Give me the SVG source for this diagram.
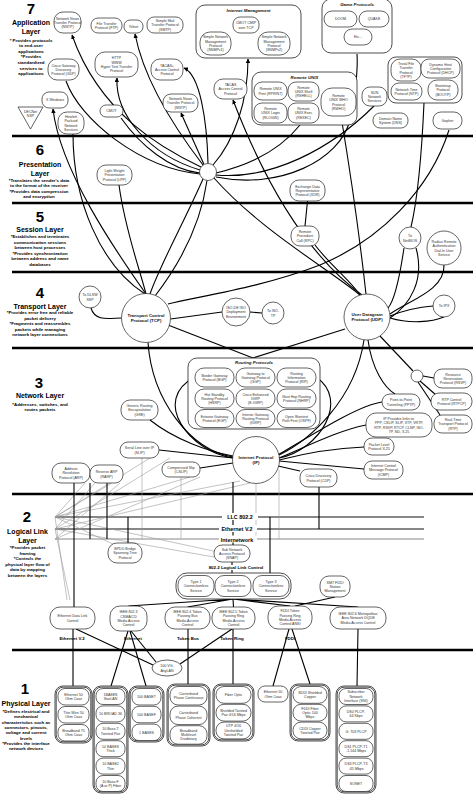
<svg xmlns="http://www.w3.org/2000/svg" width="474" height="794" viewBox="0 0 474 794">
<defs>
<style>
.nd{fill:#fff;stroke:#222;stroke-width:0.7}
.gp{fill:#fff;stroke:#222;stroke-width:0.8}
.t{font-family:"Liberation Sans",Arial,sans-serif;font-size:3.6px;fill:#333;text-anchor:middle}
.tb{font-family:"Liberation Sans",Arial,sans-serif;font-size:4.4px;font-weight:bold;fill:#111;text-anchor:middle}
.gt{font-family:"Liberation Sans",Arial,sans-serif;font-size:4.4px;font-weight:bold;font-style:italic;fill:#111;text-anchor:middle}
.c{fill:none;stroke:#000;stroke-width:1.1}
.ca{fill:none;stroke:#000;stroke-width:1.1;marker-end:url(#ah)}
.g{fill:none;stroke:#9a9a9a;stroke-width:0.6}
.ly{stroke:#000;stroke-width:2.4}
.ln{stroke:#111;stroke-width:1.2}
.num{font-family:"Liberation Sans",Arial,sans-serif;font-weight:bold;font-size:15px;text-anchor:middle;fill:#000}
.lt{font-family:"Liberation Sans",Arial,sans-serif;font-weight:bold;font-size:7px;text-anchor:middle;fill:#000}
.ld{font-family:"Liberation Sans",Arial,sans-serif;font-weight:bold;font-size:4.4px;text-anchor:middle;fill:#000}
.ll{font-family:"Liberation Sans",Arial,sans-serif;font-weight:bold;font-size:5.4px;text-anchor:middle;fill:#000}
</style>
<marker id="ah" viewBox="0 0 10 10" refX="9" refY="5" markerWidth="4.5" markerHeight="4.5" markerUnits="userSpaceOnUse" orient="auto"><path d="M0,0 L10,5 L0,10 z" fill="#000"/></marker>
</defs>
<rect width="474" height="794" fill="#fff"/>

<g id="layer-lines">
<line class="ly" x1="12" y1="136" x2="473" y2="136"/>
<line class="ly" x1="12" y1="203" x2="473" y2="203"/>
<line class="ly" x1="12" y1="272" x2="473" y2="272"/>
<line class="ly" x1="12" y1="348" x2="473" y2="348"/>
<line class="ly" x1="12" y1="494" x2="473" y2="494"/>
<line class="ly" x1="12" y1="650" x2="473" y2="650"/>
</g>

<g id="layer-text">
<text class="num" x="31" y="14">7</text>
<text class="lt" x="31" y="25">Application</text>
<text class="lt" x="31" y="33.5">Layer</text>
<text class="ld" x="31" y="41.5">* Provides protocols</text>
<text class="ld" x="31" y="47">to end-user</text>
<text class="ld" x="31" y="52.7">applications</text>
<text class="ld" x="31" y="58.3">*Provides</text>
<text class="ld" x="31" y="64">standardized</text>
<text class="ld" x="31" y="69.5">services to</text>
<text class="ld" x="31" y="75">applications</text>

<text class="num" x="40" y="155">6</text>
<text class="lt" x="40" y="167">Presentation</text>
<text class="lt" x="40" y="175.5">Layer</text>
<text class="ld" x="39" y="181.5">*Translates the sender's data</text>
<text class="ld" x="39" y="187">to the format of the receiver</text>
<text class="ld" x="39" y="192.5">*Provides data compression</text>
<text class="ld" x="39" y="198">and encryption</text>

<text class="num" x="40" y="222">5</text>
<text class="lt" x="40" y="232">Session Layer</text>
<text class="ld" x="40" y="238">*Establishes and terminates</text>
<text class="ld" x="40" y="243.5">communication sessions</text>
<text class="ld" x="40" y="249">between host processes</text>
<text class="ld" x="40" y="254.5">*Provides synchronization</text>
<text class="ld" x="40" y="260">between address and name</text>
<text class="ld" x="40" y="265.5">databases</text>

<text class="num" x="40" y="298">4</text>
<text class="lt" x="40" y="308.5">Transport Layer</text>
<text class="ld" x="40" y="314">*Provides error free and reliable</text>
<text class="ld" x="40" y="319.5">packet delivery</text>
<text class="ld" x="40" y="325">*Fragments and reassembles</text>
<text class="ld" x="40" y="330.5">packets while managing</text>
<text class="ld" x="40" y="336">network layer connections</text>

<text class="num" x="39" y="388">3</text>
<text class="lt" x="40" y="398">Network Layer</text>
<text class="ld" x="40" y="405.5">*Addresses, switches, and</text>
<text class="ld" x="40" y="411">routes packets</text>

<text class="num" x="27" y="522">2</text>
<text class="lt" x="27.5" y="534">Logical Link</text>
<text class="lt" x="27.5" y="543">Layer</text>
<text class="ld" x="27.5" y="549">*Provides packet</text>
<text class="ld" x="27.5" y="554.5">framing</text>
<text class="ld" x="27.5" y="560">*Controls the</text>
<text class="ld" x="27.5" y="565.7">physical layer flow of</text>
<text class="ld" x="27.5" y="571.3">data by mapping</text>
<text class="ld" x="27.5" y="577">between the layers</text>

<text class="num" x="25" y="694">1</text>
<text class="lt" x="26" y="705.5">Physical Layer</text>
<text class="ld" x="26" y="713">*Defines electrical and</text>
<text class="ld" x="26" y="718.3">mechanical</text>
<text class="ld" x="26" y="723.6">characteristics such as</text>
<text class="ld" x="26" y="729">connectors, pinouts,</text>
<text class="ld" x="26" y="734.3">voltage and current</text>
<text class="ld" x="26" y="739.6">levels</text>
<text class="ld" x="26" y="745">*Provides the interface</text>
<text class="ld" x="26" y="750.3">network devices</text>
</g>

<g id="connectors">
<path class="ca" d="M201,167 C165,150 100,115 72,35"/>
<path class="ca" d="M203,165 C180,135 145,85 135,34"/>
<path class="ca" d="M200,170 C150,155 115,115 117,78"/>
<path class="c" d="M200,174 C140,168 80,120 66,81"/>
<path class="c" d="M200,173 C170,170 140,145 121,118"/>
<path class="ca" d="M208,163.5 C207,120 200,75 184,68"/>
<path class="ca" d="M204,164.5 L181,113"/>
<path class="ca" d="M213,165 C235,140 248,100 248,59"/>
<path class="c" d="M216,175 C270,180 330,150 374,106"/>
<path class="c" d="M216,177 C280,190 340,160 350,120 C356,90 358,70 357,54"/>
<path class="c" d="M216,173 C250,165 280,150 300,125"/>
<path class="ca" d="M146,294 C115,250 60,170 53,109"/>
<path class="c" d="M73,134 C73,200 100,265 145,294"/>
<path class="c" d="M119,185 C125,230 140,270 146,294"/>
<path class="c" d="M203,179 C185,220 160,265 150,294"/>
<path class="c" d="M207,180.5 C200,230 175,270 155,296"/>
<path class="c" d="M214,178 C260,230 330,270 360,295"/>
<path class="ca" d="M362,295 C300,250 260,170 233,100"/>
<path class="ca" d="M366,294 C360,240 350,170 341,116"/>
<path class="c" d="M424,103 C421,170 415,210 411,227"/>
<path class="c" d="M449,130 C430,190 380,240 320,265 C260,288 200,296 168,304"/>
<path class="c" d="M307.5,201 L305,226"/>
<path class="c" d="M315,245 C330,265 350,280 360,295"/>
<path class="c" d="M404,248 C400,275 395,300 388,308"/>
<path class="c" d="M416,248 C425,280 410,305 390,318"/>
<path class="c" d="M444,265 C445,290 410,300 390,314"/>
<path class="c" d="M390,318 C410,324 432,322 444,317"/>
<path class="c" d="M390,316 C405,310 420,307 433,306"/>
<path class="c" d="M91,308 C95,322 110,318 121.5,318"/>
<path class="c" d="M170.5,319 L222,312"/>
<path class="c" d="M250,312 L262,313"/>
<path class="c" d="M168,325 L253,358"/>
<path class="c" d="M345,329 L253,358"/>
<path class="c" d="M148,342.5 C152,400 190,450 233,457"/>
<path class="c" d="M364,340 C355,400 310,440 279,455"/>
<path class="c" d="M380,336 L413,371"/>
<path class="c" d="M368,340 C372,370 385,388 395,394"/>
<path class="c" d="M195,377 C150,400 190,452 233,458"/>
<path class="c" d="M316,377 C350,400 320,450 279,458"/>
<path class="c" d="M150,420 C175,440 210,452 233,456"/>
<path class="c" d="M159,450 L233,458"/>
<path class="c" d="M200,468 L233,463"/>
<path class="c" d="M278,466 L300,471"/>
<path class="c" d="M279,461 L364,469"/>
<path class="c" d="M279,460 C310,452 340,448 364,447"/>
<path class="c" d="M279,458 C310,445 340,430 366,425"/>
<path class="c" d="M278,455 C320,430 360,405 382,402"/>
<path class="c" d="M423,376 L434,378"/>
<path class="c" d="M420,381 L436,395"/>
<path class="c" d="M418,382 L440,415"/>
<line class="ln" x1="55" y1="517" x2="424" y2="517"/>
<line class="ln" x1="55" y1="529" x2="424" y2="529"/>
<line x1="55" y1="539" x2="424" y2="539" stroke="#888" stroke-width="1"/>
<path class="g" d="M55,517 L85,483 M55,517 L112,483 M55,517 L150,458 M55,517 L190,477 M55,517 L240,481 M55,517 L115,545 M55,517 L218,552 M55,529 L95,483 M55,529 L170,458 M55,529 L250,483 M55,539 L200,477 M55,529 L214,557 M55,517 L67,600 M55,529 L70,600 M55,539 L120,483"/>
<path class="c" d="M74,483 L74,607"/>
<path class="c" d="M90,483 L90,539 M107,483 L107,539" stroke-width="0.8"/>
<path class="c" d="M128,517 L128,543"/>
<path class="g" d="M142,458 L142,539 M181,477 L181,539 M256,483.5 L256,539 M279,470 L279,539"/>
<path class="c" d="M233,482 L233,545"/>
<path class="c" d="M270,517 L270,576"/>
<path class="c" d="M319,487 L319,529"/>
<path class="c" d="M232,562 L232,573"/>
<path class="c" d="M335,597 L295,606"/>
<path class="c" d="M233,599 L128.5,606 M233,599 L187.5,607 M233,599 L233.5,607 M233,599 L290,606 M233,599 L358,607"/>
<path class="c" d="M73,629 L73,686 M76,629 L153,665 M128,631 L111,686 M130,631 L146,686 M131,631 L156,662 M188,629 L188,684 M233,629 L233,684 M232,629 L180,664 M289,629 L273,686 M292,629 L310,684 M358,629 L357,686"/>
</g>

<g id="line-labels">
<rect x="222" y="513" width="36" height="7" fill="#fff"/>
<text class="ll" x="240" y="519">LLC 802.2</text>
<rect x="219" y="525" width="38" height="7" fill="#fff"/>
<text class="ll" x="237" y="531">Ethernet V.2</text>
<rect x="219" y="535.5" width="38" height="7" fill="#fff"/>
<text class="ll" x="237" y="541.5">Internetwork</text>
<rect x="204" y="565" width="64" height="5" fill="#fff"/>
<text class="ld" x="236" y="569">802.2 Logical Link Control</text>
<text class="ld" x="72" y="640">Ethernet V.2</text>
<text class="ld" x="133" y="640">Ethernet</text>
<text class="ld" x="188" y="640">Token Bus</text>
<text class="ld" x="232" y="640">Token Ring</text>
<text class="ld" x="290" y="640">FDDI</text>
</g>

<!-- Layer 7 -->
<g id="nntp1"><rect class="nd" x="54" y="12" width="27" height="21" rx="9"/><text class="t" x="67.5" y="19.5"><tspan x="67.5">Network News</tspan><tspan x="67.5" dy="4.3">Transfer Protocol</tspan><tspan x="67.5" dy="4.3">(NNTP)</tspan></text></g>
<g id="ftp"><rect class="nd" x="91" y="18" width="31" height="15" rx="7"/><text class="t" x="106.5" y="24.7"><tspan x="106.5">File Transfer</tspan><tspan x="106.5" dy="4.3">Protocol (FTP)</tspan></text></g>
<g id="telnet"><rect class="nd" x="124" y="20" width="19" height="13" rx="6"/><text class="t" x="133.5" y="27.8">Telnet</text></g>
<g id="smtp"><rect class="nd" x="147" y="17" width="36" height="16" rx="7"/><text class="t" x="165" y="22"><tspan x="165">Simple Mail</tspan><tspan x="165" dy="4.3">Transfer Protocol</tspan><tspan x="165" dy="4.3">(SMTP)</tspan></text></g>
<g id="http"><rect class="nd" x="95" y="52" width="43" height="25" rx="10"/><text class="t" x="116.5" y="59.4"><tspan x="116.5">HTTP</tspan><tspan x="116.5" dy="4.3">WWW</tspan><tspan x="116.5" dy="4.3">Hyper Text Transfer</tspan><tspan x="116.5" dy="4.3">Protocol</tspan></text></g>
<g id="gdp"><rect class="nd" x="48" y="59" width="31" height="21" rx="9"/><text class="t" x="63.5" y="66.5"><tspan x="63.5">Cisco Gateway</tspan><tspan x="63.5" dy="4.3">Discovery</tspan><tspan x="63.5" dy="4.3">Protocol (GDP)</tspan></text></g>
<g id="tacasplus"><rect class="nd" x="151" y="59" width="32" height="21" rx="9"/><text class="t" x="167" y="66.5"><tspan x="167">TACAS+</tspan><tspan x="167" dy="4.3">Access Control</tspan><tspan x="167" dy="4.3">Protocol</tspan></text></g>
<g id="xwindows"><rect class="nd" x="42" y="92" width="26" height="16" rx="7"/><text class="t" x="55" y="101.3">X Windows</text></g>
<g id="decnet"><polygon class="nd" points="18,107 43,107 30.5,129"/><text class="t" x="30.5" y="112.5"><tspan x="30.5">DECNet</tspan><tspan x="30.5" dy="4.3">NSP</tspan></text></g>
<g id="hpns"><rect class="nd" x="58" y="112" width="26" height="22" rx="9"/><text class="t" x="71" y="117.9"><tspan x="71">Hewlett</tspan><tspan x="71" dy="4.3">Packard</tspan><tspan x="71" dy="4.3">Network</tspan><tspan x="71" dy="4.3">Services</tspan></text></g>
<g id="cmot"><rect class="nd" x="100" y="105" width="23" height="12" rx="6"/><text class="t" x="111.5" y="112.3">CMOT</text></g>
<g id="nntp2"><rect class="nd" x="163" y="94" width="35" height="18" rx="8"/><text class="t" x="180.5" y="100"><tspan x="180.5">Network News</tspan><tspan x="180.5" dy="4.3">Transfer Protocol</tspan><tspan x="180.5" dy="4.3">(NNTP)</tspan></text></g>
<g id="tacas"><rect class="nd" x="214" y="79" width="33" height="20" rx="9"/><text class="t" x="230.5" y="86"><tspan x="230.5">TACAS</tspan><tspan x="230.5" dy="4.3">Access Control</tspan><tspan x="230.5" dy="4.3">Protocol</tspan></text></g>
<g id="internet-management"><rect class="gp" x="196" y="5" width="105" height="53" rx="9"/><text class="gt" x="248.5" y="12.3">Internet Management</text>
<rect class="nd" x="233" y="17" width="26" height="16" rx="7"/><text class="t" x="246" y="24.2"><tspan x="246">CMOT CMIP</tspan><tspan x="246" dy="4.3">over TCP</tspan></text>
<rect class="nd" x="200" y="32" width="31" height="23" rx="10"/><text class="t" x="215.5" y="38.4"><tspan x="215.5">Simple Network</tspan><tspan x="215.5" dy="4.3">Management</tspan><tspan x="215.5" dy="4.3">Protocol</tspan><tspan x="215.5" dy="4.3">(SNMPv1)</tspan></text>
<rect class="nd" x="258" y="32" width="32" height="23" rx="10"/><text class="t" x="274" y="38.4"><tspan x="274">Simple Network</tspan><tspan x="274" dy="4.3">Management</tspan><tspan x="274" dy="4.3">Protocol</tspan><tspan x="274" dy="4.3">(SNMPv2)</tspan></text></g>
<g id="remote-unix"><rect class="gp" x="252" y="72" width="105" height="53" rx="9"/><text class="gt" x="304.5" y="78.5">Remote UNIX</text>
<rect class="nd" x="254" y="82" width="33" height="18" rx="8"/><text class="t" x="270.5" y="90.2"><tspan x="270.5">Remote UNIX</tspan><tspan x="270.5" dy="4.3">Print (RPRINT)</tspan></text>
<rect class="nd" x="288" y="82" width="31" height="19" rx="8"/><text class="t" x="303.5" y="88.5"><tspan x="303.5">Remote</tspan><tspan x="303.5" dy="4.3">UNIX Shell</tspan><tspan x="303.5" dy="4.3">(RSHELL)</tspan></text>
<rect class="nd" x="254" y="103" width="33" height="20" rx="8"/><text class="t" x="270.5" y="110"><tspan x="270.5">Remote</tspan><tspan x="270.5" dy="4.3">UNIX Login</tspan><tspan x="270.5" dy="4.3">(RLOGIN)</tspan></text>
<rect class="nd" x="288" y="103" width="31" height="20" rx="8"/><text class="t" x="303.5" y="110"><tspan x="303.5">Remote</tspan><tspan x="303.5" dy="4.3">UNIX Exec</tspan><tspan x="303.5" dy="4.3">(REXEC)</tspan></text>
<rect class="nd" x="321" y="88" width="35" height="28" rx="11"/><text class="t" x="338.5" y="96.9"><tspan x="338.5">Remote</tspan><tspan x="338.5" dy="4.3">UNIX WHO</tspan><tspan x="338.5" dy="4.3">Protocol</tspan><tspan x="338.5" dy="4.3">(RWHO)</tspan></text></g>
<g id="game-protocols"><rect class="gp" x="322" y="-1" width="70" height="54" rx="9"/><text class="gt" x="357" y="5.5">Game Protocols</text>
<rect class="nd" x="324" y="11" width="33" height="16" rx="8"/><text class="t" x="340.5" y="20.3">DOOM</text>
<rect class="nd" x="359" y="11" width="30" height="16" rx="8"/><text class="t" x="374" y="20.3">QUAKE</text>
<rect class="nd" x="344" y="29" width="28" height="16" rx="8"/><text class="t" x="358" y="38.3">Etc...</text></g>
<g id="sun-ns"><rect class="nd" x="362" y="87" width="25" height="19" rx="8"/><text class="t" x="374.5" y="93.5"><tspan x="374.5">SUN</tspan><tspan x="374.5" dy="4.3">Network</tspan><tspan x="374.5" dy="4.3">Services</tspan></text></g>
<g id="udp-apps"><rect class="gp" x="388" y="57" width="74" height="46" rx="8"/>
<rect class="nd" x="391" y="59" width="30" height="22" rx="9"/><text class="t" x="406" y="64.9"><tspan x="406">Trivial File</tspan><tspan x="406" dy="4.3">Transfer</tspan><tspan x="406" dy="4.3">Protocol</tspan><tspan x="406" dy="4.3">(TFTP)</tspan></text>
<rect class="nd" x="421" y="59" width="39" height="19" rx="8"/><text class="t" x="440.5" y="65.5"><tspan x="440.5">Dynamic Host</tspan><tspan x="440.5" dy="4.3">Configuration</tspan><tspan x="440.5" dy="4.3">Protocol (DHCP)</tspan></text>
<rect class="nd" x="391" y="83" width="31" height="17" rx="8"/><text class="t" x="406.5" y="90.7"><tspan x="406.5">Network Time</tspan><tspan x="406.5" dy="4.3">Protocol (NTP)</tspan></text>
<rect class="nd" x="428" y="80" width="30" height="20" rx="9"/><text class="t" x="443" y="87"><tspan x="443">Bootstrap</tspan><tspan x="443" dy="4.3">Protocol</tspan><tspan x="443" dy="4.3">(BOOTP)</tspan></text></g>
<g id="dns"><rect class="nd" x="373" y="113" width="35" height="15" rx="7"/><text class="t" x="390.5" y="119.7"><tspan x="390.5">Domain Name</tspan><tspan x="390.5" dy="4.3">System (DNS)</tspan></text></g>
<g id="gopher"><rect class="nd" x="433" y="112" width="29" height="17" rx="8"/><text class="t" x="447.5" y="121.8">Gopher</text></g>

<!-- Layer 6 / 5 -->
<g id="hub"><circle class="nd" cx="208" cy="172" r="8.5"/></g>
<g id="lpp"><rect class="nd" x="97" y="165" width="35" height="20" rx="9"/><text class="t" x="114.5" y="172"><tspan x="114.5">Light Weight</tspan><tspan x="114.5" dy="4.3">Presentation</tspan><tspan x="114.5" dy="4.3">Protocol (LPP)</tspan></text></g>
<g id="xdr"><rect class="nd" x="290" y="180" width="35" height="21" rx="9"/><text class="t" x="307.5" y="187.5"><tspan x="307.5">Exchange Data</tspan><tspan x="307.5" dy="4.3">Representative</tspan><tspan x="307.5" dy="4.3">Protocol (XDR)</tspan></text></g>
<g id="rpc"><rect class="nd" x="291" y="226" width="28" height="20" rx="9"/><text class="t" x="305" y="233"><tspan x="305">Remote</tspan><tspan x="305" dy="4.3">Procedure</tspan><tspan x="305" dy="4.3">Call (RPC)</tspan></text></g>
<g id="netbios"><circle class="nd" cx="410" cy="238" r="11"/><text class="t" x="410" y="237.2"><tspan x="410">To</tspan><tspan x="410" dy="4.3">NetBIOS</tspan></text></g>
<g id="radius"><circle class="nd" cx="444" cy="248" r="17"/><text class="t" x="444" y="242.9"><tspan x="444">Radius Remote</tspan><tspan x="444" dy="4.3">Authentication</tspan><tspan x="444" dy="4.3">Dial-In User</tspan><tspan x="444" dy="4.3">Service</tspan></text></g>

<!-- Layer 4 -->
<g id="dlsw"><circle class="nd" cx="90" cy="297" r="11"/><text class="t" x="90" y="296.2"><tspan x="90">To DLSW</tspan><tspan x="90" dy="4.3">SSP</tspan></text></g>
<g id="tcp"><circle class="nd" cx="146" cy="318" r="24.5"/><text class="tb" x="146" y="317"><tspan x="146">Transport Control</tspan><tspan x="146" dy="5">Protocol (TCP)</tspan></text></g>
<g id="isode"><circle class="nd" cx="236" cy="312" r="14"/><text class="t" x="236" y="309"><tspan x="236">ISO-DE ISO</tspan><tspan x="236" dy="4.3">Deployment</tspan><tspan x="236" dy="4.3">Environment</tspan></text></g>
<g id="isotp"><circle class="nd" cx="273" cy="313" r="11"/><text class="t" x="273" y="312.2"><tspan x="273">To ISO-</tspan><tspan x="273" dy="4.3">TP</tspan></text></g>
<g id="udp"><circle class="nd" cx="367" cy="317" r="23"/><text class="tb" x="367" y="316"><tspan x="367">User Datagram</tspan><tspan x="367" dy="5">Protocol (UDP)</tspan></text></g>
<g id="ipx"><circle class="nd" cx="444" cy="306" r="11"/><text class="t" x="444" y="307.3">To IPX</text></g>

<!-- Layer 3 -->
<g id="routing-protocols"><rect class="gp" x="188" y="358" width="132" height="71" rx="9"/><text class="gt" x="254" y="364.3">Routing Protocols</text>
<rect class="nd" x="195" y="368" width="39" height="19" rx="9"/><text class="t" x="214.5" y="376.7"><tspan x="214.5">Border Gateway</tspan><tspan x="214.5" dy="4.3">Protocol (BGP)</tspan></text>
<rect class="nd" x="236" y="368" width="39" height="19" rx="9"/><text class="t" x="255.5" y="374.5"><tspan x="255.5">Gateway to</tspan><tspan x="255.5" dy="4.3">Gateway Protocol</tspan><tspan x="255.5" dy="4.3">(GGP)</tspan></text>
<rect class="nd" x="277" y="368" width="39" height="19" rx="9"/><text class="t" x="296.5" y="374.5"><tspan x="296.5">Routing</tspan><tspan x="296.5" dy="4.3">Information</tspan><tspan x="296.5" dy="4.3">Protocol (RIP)</tspan></text>
<rect class="nd" x="195" y="389" width="39" height="19" rx="9"/><text class="t" x="214.5" y="395.5"><tspan x="214.5">Hot Standby</tspan><tspan x="214.5" dy="4.3">Routing Protocol</tspan><tspan x="214.5" dy="4.3">(HSRP)</tspan></text>
<rect class="nd" x="236" y="389" width="39" height="19" rx="9"/><text class="t" x="255.5" y="395.5"><tspan x="255.5">Cisco Enhanced</tspan><tspan x="255.5" dy="4.3">IGRP</tspan><tspan x="255.5" dy="4.3">(E-IGRP)</tspan></text>
<rect class="nd" x="277" y="389" width="39" height="19" rx="9"/><text class="t" x="296.5" y="397.7"><tspan x="296.5">Next Hop Routing</tspan><tspan x="296.5" dy="4.3">Protocol (NHRP)</tspan></text>
<rect class="nd" x="195" y="409.5" width="39" height="18" rx="9"/><text class="t" x="214.5" y="417.7"><tspan x="214.5">Exterior Gateway</tspan><tspan x="214.5" dy="4.3">Protocol (EGP)</tspan></text>
<rect class="nd" x="236" y="409.5" width="39" height="18" rx="9"/><text class="t" x="255.5" y="415.5"><tspan x="255.5">Interior Gateway</tspan><tspan x="255.5" dy="4.3">Routing Protocol</tspan><tspan x="255.5" dy="4.3">(IGRP)</tspan></text>
<rect class="nd" x="277" y="409.5" width="39" height="18" rx="9"/><text class="t" x="296.5" y="417.7"><tspan x="296.5">Open Shortest</tspan><tspan x="296.5" dy="4.3">Path First (OSPF)</tspan></text></g>
<g id="gre"><rect class="nd" x="121" y="400" width="37" height="20" rx="9"/><text class="t" x="139.5" y="407"><tspan x="139.5">Generic Routing</tspan><tspan x="139.5" dy="4.3">Encapsulation</tspan><tspan x="139.5" dy="4.3">(GRE)</tspan></text></g>
<g id="slip"><rect class="nd" x="120" y="442" width="39" height="16" rx="8"/><text class="t" x="139.5" y="449.2"><tspan x="139.5">Serial Line over IP</tspan><tspan x="139.5" dy="4.3">(SLIP)</tspan></text></g>
<g id="arp"><rect class="nd" x="52" y="463" width="38" height="20" rx="9"/><text class="t" x="71" y="470"><tspan x="71">Address</tspan><tspan x="71" dy="4.3">Resolution</tspan><tspan x="71" dy="4.3">Protocol (ARP)</tspan></text></g>
<g id="rarp"><rect class="nd" x="90" y="465" width="33" height="18" rx="8"/><text class="t" x="106.5" y="473.2"><tspan x="106.5">Reverse ARP</tspan><tspan x="106.5" dy="4.3">(RARP)</tspan></text></g>
<g id="cslip"><rect class="nd" x="162" y="462" width="38" height="15" rx="7"/><text class="t" x="181" y="468.7"><tspan x="181">Compressed Slip</tspan><tspan x="181" dy="4.3">(CSLIP)</tspan></text></g>
<g id="ip"><circle class="nd" cx="256" cy="460" r="23.5"/><text class="tb" x="256" y="459"><tspan x="256">Internet Protocol</tspan><tspan x="256" dy="5">(IP)</tspan></text></g>
<g id="cdp"><rect class="nd" x="300" y="469" width="37" height="18" rx="8"/><text class="t" x="318.5" y="477.2"><tspan x="318.5">Cisco Discovery</tspan><tspan x="318.5" dy="4.3">Protocol (CDP)</tspan></text></g>
<g id="icmp"><rect class="nd" x="364" y="461" width="39" height="18" rx="8"/><text class="t" x="383.5" y="467"><tspan x="383.5">Internet Control</tspan><tspan x="383.5" dy="4.3">Message Protocol</tspan><tspan x="383.5" dy="4.3">(ICMP)</tspan></text></g>
<g id="x25"><rect class="nd" x="364" y="438" width="30" height="17" rx="8"/><text class="t" x="379" y="445.7"><tspan x="379">Packet Level</tspan><tspan x="379" dy="4.3">Protocol X.25</tspan></text></g>
<g id="ip-links"><rect class="nd" x="366" y="413" width="66" height="24" rx="10"/><text class="t" x="399" y="419.9"><tspan x="399">IP Provides links to:</tspan><tspan x="399" dy="4.3">PPP, CSLIP, SLIP, XTP, VRTP,</tspan><tspan x="399" dy="4.3">RTP, RSVP, RTCP, CLNP, ISO-</tspan><tspan x="399" dy="4.3">TP, ND, X.25</tspan></text></g>
<g id="pptp"><rect class="nd" x="382" y="394" width="38" height="16" rx="8"/><text class="t" x="401" y="401.2"><tspan x="401">Point-to-Point</tspan><tspan x="401" dy="4.3">Tunneling (PPTP)</tspan></text></g>
<g id="rtpcp"><rect class="nd" x="431" y="393" width="41" height="17" rx="8"/><text class="t" x="451.5" y="400.7"><tspan x="451.5">RTP Control</tspan><tspan x="451.5" dy="4.3">Protocol (RTPCP)</tspan></text></g>
<g id="rtp"><rect class="nd" x="434" y="415" width="38" height="18" rx="8"/><text class="t" x="453" y="421"><tspan x="453">Real-Time</tspan><tspan x="453" dy="4.3">Transport Protocol</tspan><tspan x="453" dy="4.3">(RTP)</tspan></text></g>
<g id="rsvp"><rect class="nd" x="434" y="369" width="38" height="19" rx="8"/><text class="t" x="453" y="375.5"><tspan x="453">Resource</tspan><tspan x="453" dy="4.3">Reservation</tspan><tspan x="453" dy="4.3">Protocol (RSVP)</tspan></text></g>
<g id="rtp-hub"><circle class="nd" cx="417" cy="376" r="6"/></g>

<!-- Layer 2 -->
<g id="snap"><rect class="nd" x="214" y="545" width="36" height="17" rx="8"/><text class="t" x="232" y="550.5"><tspan x="232">Sub Network</tspan><tspan x="232" dy="4.3">Access Protocol</tspan><tspan x="232" dy="4.3">(SNAP)</tspan></text></g>
<g id="bpdu"><rect class="nd" x="108" y="543" width="34" height="20" rx="9"/><text class="t" x="125" y="550"><tspan x="125">BPDU Bridge</tspan><tspan x="125" dy="4.3">Spanning Tree</tspan><tspan x="125" dy="4.3">Protocol</tspan></text></g>
<g id="llc-types"><rect class="gp" x="176" y="573" width="115" height="26" rx="11"/>
<rect class="nd" x="178" y="575.5" width="36" height="21" rx="9"/><text class="t" x="196" y="583"><tspan x="196">Type 1</tspan><tspan x="196" dy="4.3">Connectionless</tspan><tspan x="196" dy="4.3">Service</tspan></text>
<rect class="nd" x="215" y="575.5" width="36" height="21" rx="9"/><text class="t" x="233" y="583"><tspan x="233">Type 2</tspan><tspan x="233" dy="4.3">Connectionless</tspan><tspan x="233" dy="4.3">Service</tspan></text>
<rect class="nd" x="253" y="575.5" width="36" height="21" rx="9"/><text class="t" x="271" y="583"><tspan x="271">Type 3</tspan><tspan x="271" dy="4.3">Connectionless</tspan><tspan x="271" dy="4.3">Service</tspan></text></g>
<g id="smt"><rect class="nd" x="320" y="576" width="30" height="21" rx="9"/><text class="t" x="335" y="583.5"><tspan x="335">SMT FDDI</tspan><tspan x="335" dy="4.3">Station</tspan><tspan x="335" dy="4.3">Management</tspan></text></g>
<g id="edlc"><rect class="nd" x="50" y="607" width="45" height="22" rx="10"/><text class="t" x="72.5" y="617.2"><tspan x="72.5">Ethernet Data Link</tspan><tspan x="72.5" dy="4.3">Control</tspan></text></g>
<g id="mac8023"><rect class="nd" x="110" y="606" width="37" height="25" rx="10"/><text class="t" x="128.5" y="613.4"><tspan x="128.5">IEEE 802.3</tspan><tspan x="128.5" dy="4.3">CSMA/CD</tspan><tspan x="128.5" dy="4.3">Media Access</tspan><tspan x="128.5" dy="4.3">Control</tspan></text></g>
<g id="mac8024"><rect class="nd" x="165" y="607" width="45" height="22" rx="10"/><text class="t" x="187.5" y="612.9"><tspan x="187.5">IEEE 802.4 Token</tspan><tspan x="187.5" dy="4.3">Passing Bus</tspan><tspan x="187.5" dy="4.3">Media Access</tspan><tspan x="187.5" dy="4.3">Control</tspan></text></g>
<g id="mac8025"><rect class="nd" x="212" y="607" width="43" height="22" rx="10"/><text class="t" x="233.5" y="612.9"><tspan x="233.5">IEEE 802.5 Token</tspan><tspan x="233.5" dy="4.3">Passing Ring</tspan><tspan x="233.5" dy="4.3">Media Access</tspan><tspan x="233.5" dy="4.3">Control</tspan></text></g>
<g id="fddi-mac"><rect class="nd" x="268" y="606" width="44" height="23" rx="10"/><text class="t" x="290" y="612.4"><tspan x="290">FDDI Token</tspan><tspan x="290" dy="4.3">Passing Ring</tspan><tspan x="290" dy="4.3">Media Access</tspan><tspan x="290" dy="4.3">Control ANSI</tspan></text></g>
<g id="mac8026"><rect class="nd" x="330" y="607" width="56" height="22" rx="10"/><text class="t" x="358" y="615"><tspan x="358">IEEE 802.6 Metropolitan</tspan><tspan x="358" dy="4.3">Area Network DQDB</tspan><tspan x="358" dy="4.3">Media Access Control</tspan></text></g>
<g id="vg-anylan"><ellipse class="nd" cx="167" cy="668" rx="15" ry="8"/><text class="t" x="167" y="667.2"><tspan x="167">100 VG-</tspan><tspan x="167" dy="4.3">AnyLAN</tspan></text></g>

<!-- Layer 1 -->
<g id="eth2-media"><rect class="gp" x="55" y="686" width="37" height="57" rx="8"/><rect class="gp" x="56.2" y="687.2" width="34.6" height="54.6" rx="7"/>
<rect class="nd" x="58" y="688.5" width="31" height="16.5" rx="7"/><text class="t" x="73.5" y="695.8"><tspan x="73.5">Ethernet 50</tspan><tspan x="73.5" dy="4.3">Ohm Coax</tspan></text>
<rect class="nd" x="58" y="706.5" width="31" height="16.5" rx="7"/><text class="t" x="73.5" y="713.8"><tspan x="73.5">Thin Wire 50</tspan><tspan x="73.5" dy="4.3">Ohm Coax</tspan></text>
<rect class="nd" x="58" y="724.5" width="31" height="16.5" rx="7"/><text class="t" x="73.5" y="731.8"><tspan x="73.5">Broadband 75</tspan><tspan x="73.5" dy="4.3">Ohm Coax</tspan></text></g>
<g id="eth-media-1"><rect class="gp" x="93" y="686" width="35" height="107" rx="8"/><rect class="gp" x="94.2" y="687.2" width="32.6" height="104.6" rx="7"/>
<rect class="nd" x="96" y="688.5" width="29" height="16" rx="7"/><text class="t" x="110.5" y="695.6"><tspan x="110.5">1BASES</tspan><tspan x="110.5" dy="4.3">StarLAN</tspan></text>
<rect class="nd" x="96" y="705.9" width="29" height="16" rx="7"/><text class="t" x="110.5" y="715.2">10 BROAD 36</text>
<rect class="nd" x="96" y="723.3" width="29" height="16" rx="7"/><text class="t" x="110.5" y="730.4"><tspan x="110.5">10 Base-T</tspan><tspan x="110.5" dy="4.3">Twisted Pair</tspan></text>
<rect class="nd" x="96" y="740.7" width="29" height="16" rx="7"/><text class="t" x="110.5" y="747.8"><tspan x="110.5">10 BASES</tspan><tspan x="110.5" dy="4.3">Thick</tspan></text>
<rect class="nd" x="96" y="758.1" width="29" height="16" rx="7"/><text class="t" x="110.5" y="765.2"><tspan x="110.5">10 BASE2</tspan><tspan x="110.5" dy="4.3">Thin</tspan></text>
<rect class="nd" x="96" y="775.5" width="29" height="16" rx="7"/><text class="t" x="110.5" y="782.6"><tspan x="110.5">10 Base-F</tspan><tspan x="110.5" dy="4.3">(A or P) Fiber</tspan></text></g>
<g id="eth-media-2"><rect class="gp" x="129" y="686" width="35" height="56" rx="8"/><rect class="gp" x="130.2" y="687.2" width="32.6" height="53.6" rx="7"/>
<rect class="nd" x="132" y="688.5" width="29" height="16.5" rx="7"/><text class="t" x="146.5" y="698">100 BASET</text>
<rect class="nd" x="132" y="706.3" width="29" height="16.5" rx="7"/><text class="t" x="146.5" y="715.8">100 BASEF</text>
<rect class="nd" x="132" y="724.1" width="29" height="16.5" rx="7"/><text class="t" x="146.5" y="733.6">1 BASES</text></g>
<g id="token-bus-media"><rect class="gp" x="167" y="684" width="43" height="62" rx="8"/><rect class="gp" x="168.2" y="685.2" width="40.6" height="59.6" rx="7"/>
<rect class="nd" x="170" y="686.5" width="37" height="18.5" rx="8"/><text class="t" x="188.5" y="694.8"><tspan x="188.5">Carrierband</tspan><tspan x="188.5" dy="4.3">Phase Continuous</tspan></text>
<rect class="nd" x="170" y="706.1" width="37" height="18.5" rx="8"/><text class="t" x="188.5" y="714.4"><tspan x="188.5">Carrierband</tspan><tspan x="188.5" dy="4.3">Phase Coherent</tspan></text>
<rect class="nd" x="170" y="725.7" width="37" height="18.5" rx="8"/><text class="t" x="188.5" y="731.8"><tspan x="188.5">Broadband</tspan><tspan x="188.5" dy="4.3">Multilevel</tspan><tspan x="188.5" dy="4.3">Duobinary</tspan></text></g>
<g id="token-ring-media"><rect class="gp" x="213" y="684" width="41" height="57" rx="8"/><rect class="gp" x="214.2" y="685.2" width="38.6" height="54.6" rx="7"/>
<rect class="nd" x="216" y="686.5" width="35" height="16.8" rx="8"/><text class="t" x="233.5" y="696.2">Fiber Optic</text>
<rect class="nd" x="216" y="704.3" width="35" height="16.8" rx="8"/><text class="t" x="233.5" y="711.7"><tspan x="233.5">Shielded Twisted</tspan><tspan x="233.5" dy="4.3">Pair 4/16 Mbps</tspan></text>
<rect class="nd" x="216" y="722.1" width="35" height="16.8" rx="8"/><text class="t" x="233.5" y="727.4"><tspan x="233.5">UTP 4/16</tspan><tspan x="233.5" dy="4.3">Unshielded</tspan><tspan x="233.5" dy="4.3">Twisted Pair</tspan></text></g>
<g id="fddi-coax"><rect class="nd" x="258" y="686" width="30" height="16" rx="7"/><text class="t" x="273" y="693.2"><tspan x="273">Ethernet 50</tspan><tspan x="273" dy="4.3">Ohm Coax</tspan></text></g>
<g id="fddi-media"><rect class="gp" x="290" y="684" width="40" height="57" rx="8"/><rect class="gp" x="291.2" y="685.2" width="37.6" height="54.6" rx="7"/>
<rect class="nd" x="293" y="686.5" width="34" height="16.8" rx="8"/><text class="t" x="310" y="694"><tspan x="310">SDDI Shielded</tspan><tspan x="310" dy="4.3">Copper</tspan></text>
<rect class="nd" x="293" y="704.3" width="34" height="16.8" rx="8"/><text class="t" x="310" y="709.6"><tspan x="310">FDDI Fiber</tspan><tspan x="310" dy="4.3">Optic 100</tspan><tspan x="310" dy="4.3">Mbps</tspan></text>
<rect class="nd" x="293" y="722.1" width="34" height="16.8" rx="8"/><text class="t" x="310" y="729.6"><tspan x="310">CDDI Copper</tspan><tspan x="310" dy="4.3">Twisted Pair</tspan></text></g>
<g id="dqdb-media"><rect class="gp" x="336" y="686" width="40" height="107" rx="8"/><rect class="gp" x="337.2" y="687.2" width="37.6" height="104.6" rx="7"/>
<rect class="nd" x="339" y="688.5" width="34" height="16" rx="7"/><text class="t" x="356" y="693.4"><tspan x="356">Subscriber</tspan><tspan x="356" dy="4.3">Network</tspan><tspan x="356" dy="4.3">Interface (SNI)</tspan></text>
<rect class="nd" x="339" y="705.9" width="34" height="16" rx="7"/><text class="t" x="356" y="713"><tspan x="356">DS0 PLCP-</tspan><tspan x="356" dy="4.3">64 Kbps</tspan></text>
<rect class="nd" x="339" y="723.3" width="34" height="16" rx="7"/><text class="t" x="356" y="732.6">G. 703 PLCP</text>
<rect class="nd" x="339" y="740.7" width="34" height="16" rx="7"/><text class="t" x="356" y="747.8"><tspan x="356">DS1 PLCP-T1</tspan><tspan x="356" dy="4.3">-1.544 Mbps</tspan></text>
<rect class="nd" x="339" y="758.1" width="34" height="16" rx="7"/><text class="t" x="356" y="765.2"><tspan x="356">DS3 PLCP-T3</tspan><tspan x="356" dy="4.3">-45 Mbps</tspan></text>
<rect class="nd" x="339" y="775.5" width="34" height="16" rx="7"/><text class="t" x="356" y="784.8">SONET</text></g>
</svg>
